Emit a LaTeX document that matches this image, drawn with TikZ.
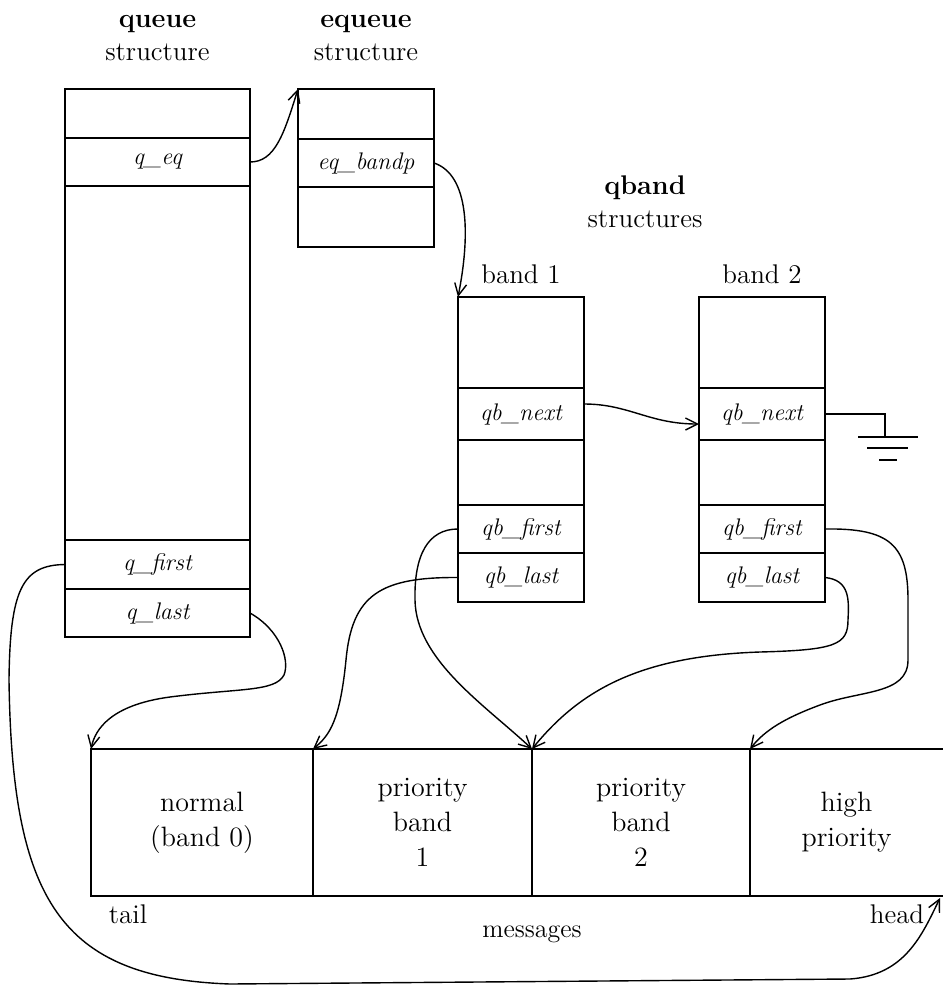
\documentclass[tikz,border=0pt]{standalone}
\usetikzlibrary{positioning,arrows.meta}
\begin{document}
\begin{tikzpicture}[x=0.5pt,y=-0.5pt,line width=0.8pt,
    ptr/.style={-{Straight Barb[length=6pt,width=6pt]}, line width=0.7pt},
    field/.style={draw, inner sep=0pt, outer sep=0pt, font=\fontsize{12}{14}\selectfont\itshape},
    qfield/.style={field, minimum width=92.5pt},
    efield/.style={field, minimum width=68pt},
    bfield/.style={field, minimum width=63pt},
    cell/.style={draw, inner sep=0pt, outer sep=0pt, minimum height=73.5pt, align=center, font=\fontsize{14}{17.5}\selectfont},
    heading/.style={align=center, inner sep=0pt, font=\fontsize{13.5}{16.5}\selectfont}]
        \useasboundingbox (0,0) rectangle (943,986);

        % Draw queue structure
        \node[qfield, minimum height=24.5pt] (q0) at (157.5,113.5) {};
        \node[qfield, minimum height=24pt, below=0pt of q0] (qeq) {q\_eq};
        \node[qfield, minimum height=177pt, below=0pt of qeq] (qm) {};
        \node[qfield, minimum height=24.5pt, below=0pt of qm] (qf) {q\_first};
        \node[qfield, minimum height=24pt, below=0pt of qf] (ql) {q\_last};
        \node[heading, above=13.5pt of q0] {\textbf{queue}\\structure};

        % Draw equeue structure
        \node[efield, minimum height=25pt] (eq0) at (366,114) {};
        \node[efield, minimum height=24pt, below=0pt of eq0] (eqb) {eq\_bandp};
        \node[efield, minimum height=30pt, below=0pt of eqb] (eq2) {};
        \node[heading, above=13.5pt of eq0] {\textbf{equeue}\\structure};

        % Draw qband structures
        \node[heading] at (645,202) {\textbf{qband}\\structures};

        \node[bfield, minimum height=45.5pt] (b1t) at (521,342.5) {};
        \node[bfield, minimum height=26pt, below=0pt of b1t] (b1n) {qb\_next};
        \node[bfield, minimum height=32.5pt, below=0pt of b1n] (b1m) {};
        \node[bfield, minimum height=24pt, below=0pt of b1m] (b1f) {qb\_first};
        \node[bfield, minimum height=24.5pt, below=0pt of b1f] (b1l) {qb\_last};
        \node[heading, above=6pt of b1t] {band 1};

        \node[bfield, minimum height=45.5pt] (b2t) at (762,342.5) {};
        \node[bfield, minimum height=26pt, below=0pt of b2t] (b2n) {qb\_next};
        \node[bfield, minimum height=32.5pt, below=0pt of b2n] (b2m) {};
        \node[bfield, minimum height=24pt, below=0pt of b2m] (b2f) {qb\_first};
        \node[bfield, minimum height=24.5pt, below=0pt of b2f] (b2l) {qb\_last};
        \node[heading, above=6pt of b2t] {band 2};

        % Draw ground on band 2 qb_next
        \coordinate (gnd) at (885,437);
        \draw (b2n.east) -| (gnd);
        \draw ([xshift=-13.5pt]gnd) -- ([xshift=16.5pt]gnd);
        \draw ([xshift=-9pt,yshift=-5.5pt]gnd) -- ([xshift=11.5pt,yshift=-5.5pt]gnd);
        \draw ([xshift=-3pt,yshift=-11.5pt]gnd) -- ([xshift=6pt,yshift=-11.5pt]gnd);

        % Draw message queue
        \node[cell, minimum width=111pt] (m0) at (202,822.5) {normal\\(band 0)};
        \node[cell, minimum width=109.5pt, right=0pt of m0] (m1) {priority\\band\\1};
        \node[cell, minimum width=109pt, right=0pt of m1] (m2) {priority\\band\\2};
        \node[cell, draw=none, minimum width=96.5pt, right=0pt of m2] (m3) {high\\priority};
        \draw (m3.north west) -- (m3.north east);
        \draw (m3.south west) -- (m3.south east);
        \node[heading, anchor=base] (tail) at (128,923) {tail};
        \node[heading, anchor=base] (head) at (897,923) {head};
        \node[heading, anchor=base, font=\fontsize{13}{16}\selectfont] (msgs) at (532,937) {messages};
        \coordinate (hd) at (940,898);

        % Draw pointers
        \draw[ptr] (qeq.east) .. controls +(25,0) and +(-14,45) .. (eq0.north west);
        \draw[ptr] (eqb.east) .. controls +(36,12) and +(12,-60) .. (b1t.north west);
        \draw[ptr] ([yshift=5pt]b1n.east) .. controls +(45,0) and +(-50,0) .. ([yshift=-5pt]b2n.west);

        \draw[ptr] (qf.west) .. controls (22,565) and (10,590) .. (9,680)
            .. controls (12,900) and (60,978) .. (230,984)
            -- (850,979) .. controls (905,975) and (922,935) .. (hd);
        \draw[ptr] (ql.east) .. controls (280,630) and (290,660) .. (284,675)
            .. controls (275,692) and (240,688) .. (170,697)
            .. controls (110,705) and (95,730) .. (m0.north west);

        \draw[ptr] (b1f.west) .. controls (428,529) and (414,555) .. (415,600)
            .. controls (416,660) and (485,705) .. (m2.north west);
        \draw[ptr] (b1l.west) .. controls (380,577) and (352,595) .. (346,660)
            .. controls (340,720) and (330,735) .. (m1.north west);

        \draw[ptr] (b2f.east) .. controls (890,528) and (908,545) .. (908,600)
            -- (908,660) .. controls (908,695) and (860,690) .. (820,705)
            .. controls (785,718) and (765,730) .. (m3.north west);
        \draw[ptr] (b2l.east) .. controls (850,580) and (849,600) .. (848,620)
            .. controls (848,645) and (835,650) .. (760,652)
            .. controls (640,656) and (580,690) .. (m2.north west);

    \end{tikzpicture}
\end{document}
